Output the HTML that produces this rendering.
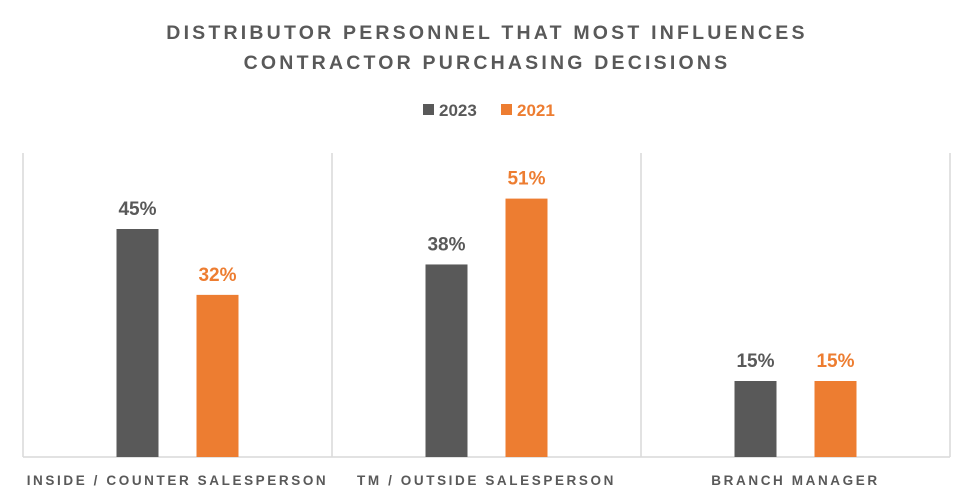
<!DOCTYPE html>
<html><head><meta charset="utf-8"><style>
body{margin:0;background:#fff;}
svg{display:block;font-family:"Liberation Sans",Arial,sans-serif;}
</style></head><body>
<svg id="chart" width="975" height="502">
<text x="487" y="39" text-anchor="middle" font-size="19.5" font-weight="bold" fill="#595959" letter-spacing="3.2">DISTRIBUTOR PERSONNEL THAT MOST INFLUENCES</text>
<text x="487" y="69" text-anchor="middle" font-size="19.5" font-weight="bold" fill="#595959" letter-spacing="3.2">CONTRACTOR PURCHASING DECISIONS</text>
<g>
<rect x="423" y="104" width="11" height="11" fill="#595959"/>
<text x="439" y="116" font-size="17" font-weight="bold" fill="#595959">2023</text>
<rect x="501" y="104" width="11" height="11" fill="#ED7D31"/>
<text x="517" y="116" font-size="17" font-weight="bold" fill="#ED7D31">2021</text>
</g>
<g id="plot"></g>
</svg>
<script>
const categories=["INSIDE / COUNTER SALESPERSON","TM / OUTSIDE SALESPERSON","BRANCH MANAGER"];
const values2023=[45,38,15];
const values2021=[32,51,15];
const yMax=60;
const ns="http://www.w3.org/2000/svg";
const plotG=document.getElementById('plot');
const plotLeft=23,plotRight=950,plotTop=153,plotBase=457;
const bandW=(plotRight-plotLeft)/categories.length;
function yScale(v){return plotBase-(v/yMax)*(plotBase-plotTop);}
function xc(i){return plotLeft+bandW*(i+0.5);}
function mk(t,a){const e=document.createElementNS(ns,t);for(const k in a)e.setAttribute(k,a[k]);plotG.appendChild(e);return e;}
for(let i=0;i<=categories.length;i++){
 const x=plotLeft+bandW*i;
 const l=mk('line',{x1:x,x2:x,y1:plotTop,y2:plotBase,stroke:'#d9d9d9','stroke-width':1.5});
 
 
}
const ax=mk('line',{x1:plotLeft,x2:plotRight,y1:plotBase,y2:plotBase,stroke:'#d9d9d9','stroke-width':1.5});


categories.forEach((c,i)=>{
 const cx=xc(i);
 [[values2023,'#595959',-61,'2023'],[values2021,'#ED7D31',19,'2021']].forEach(([arr,col,off,s])=>{
  const v=arr[i];
  const r=mk('rect',{x:cx+off,y:yScale(v),width:42,height:plotBase-yScale(v),fill:col});
  
  
  const t=mk('text',{x:cx+off+21,y:yScale(v)-14,'text-anchor':'middle','font-size':19,'font-weight':'bold',fill:col});
  t.textContent=v+'%';
  
  
 });
 const lt=mk('text',{x:cx,y:485,'text-anchor':'middle','font-size':13.5,'font-weight':'bold',fill:'#595959','letter-spacing':'2.6'});
 lt.textContent=c;
 
 
});
</script>
</body></html>
